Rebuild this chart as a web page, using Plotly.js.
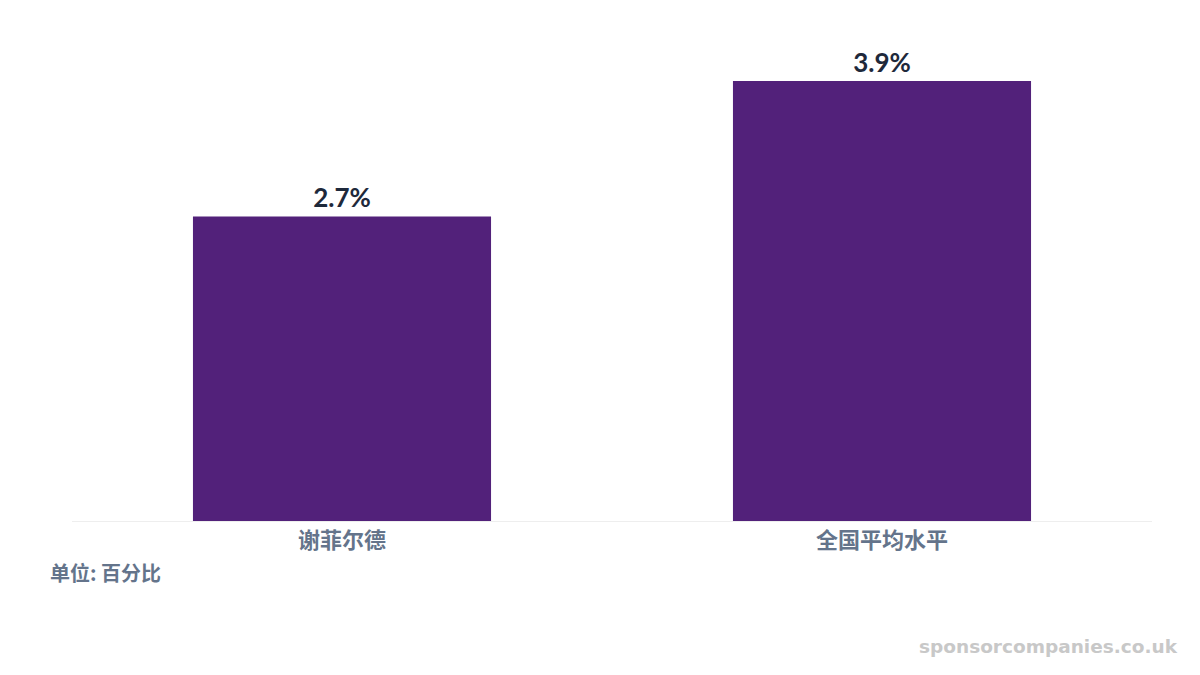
<!DOCTYPE html>
<html>
<head>
<meta charset="utf-8">
<script src="https://cdn.plot.ly/plotly-3.0.1.min.js"></script>
<style>
  html, body { margin: 0; padding: 0; background: #fff; }
  #chart { width: 1200px; height: 675px; }
</style>
</head>
<body>
<div id="chart"></div>
<script>
var categories = ['谢菲尔德', '全国平均水平'];
var values = [2.7, 3.9];
var valueLabels = ['2.7%', '3.9%'];

var trace = {
    type: 'bar',
    x: categories.map(function (c) { return c; }),
    y: values,
    text: valueLabels.map(function (t) { return '<b>' + t + '</b>'; }),
    textposition: 'outside',
    cliponaxis: false,
    textfont: { family: 'Lato, "Noto Sans CJK SC", sans-serif', size: 26, color: '#1e293b' },
    marker: { color: '#52217a' },
    hoverinfo: 'none'
};

var layout = {
    width: 1200,
    height: 675,
    margin: { l: 72, r: 48, t: 30, b: 154 },
    paper_bgcolor: '#ffffff',
    plot_bgcolor: '#ffffff',
    bargap: 0.448,
    showlegend: false,
    font: { family: 'Lato, "Noto Sans CJK SC", sans-serif' },
    xaxis: {
        showgrid: false,
        zeroline: false,
        showline: false,
        ticks: '',
        ticklabelstandoff: 4,
        tickvals: categories,
        ticktext: categories.map(function (c) { return '<b>' + c + '</b>'; }),
        tickfont: { family: '"Noto Sans CJK SC", sans-serif', size: 22, color: '#64748b' }
    },
    yaxis: {
        range: [0, 4.353],
        showgrid: false,
        zeroline: true,
        zerolinecolor: '#eeeeee',
        zerolinewidth: 1,
        showticklabels: false,
        ticks: ''
    },
    annotations: [
        {
            text: '<b>单位: 百分比</b>',
            xref: 'paper', yref: 'paper',
            x: -0.0222, y: -0.105,
            xanchor: 'left', yanchor: 'middle',
            showarrow: false,
            font: { family: '"Noto Sans CJK SC", sans-serif', size: 20, color: '#64748b' }
        },
        {
            text: '<b>sponsorcompanies.co.uk</b>',
            xref: 'paper', yref: 'paper',
            x: 1.0259, y: -0.255,
            xanchor: 'right', yanchor: 'middle',
            showarrow: false,
            font: { family: '"DejaVu Sans", sans-serif', size: 18.5, color: '#c8c8c8' }
        }
    ]
};

Plotly.newPlot('chart', [trace], layout, { displayModeBar: false, staticPlot: true });
</script>
</body>
</html>
